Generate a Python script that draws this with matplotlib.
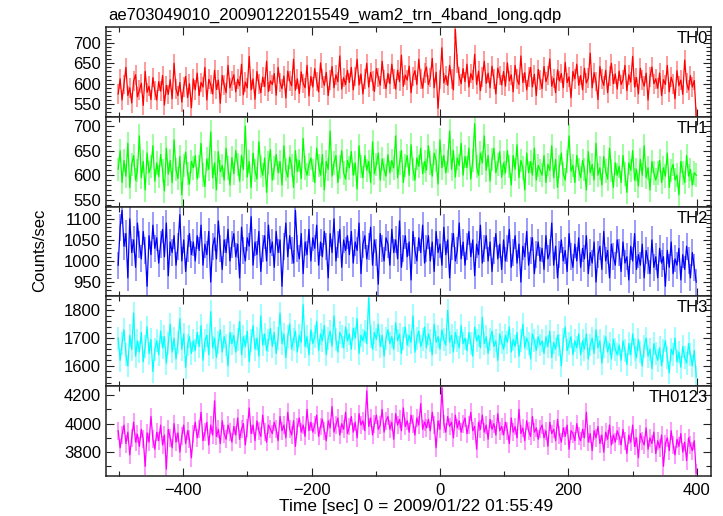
import numpy as np
import matplotlib
matplotlib.use("Agg")
import matplotlib.pyplot as plt
from matplotlib.ticker import MultipleLocator

plt.rcParams['font.family'] = ['Liberation Sans', 'DejaVu Sans']

# time bins (sec), 3 s spacing
t_start, t_step, n_bins = -501, 3, 301
time = t_start + t_step * np.arange(n_bins)

th0 = [
575, 612, 560, 598, 640, 571, 590, 553, 607, 622, 568, 585, 601, 547, 630, 579, 594, 561, 615, 583,
560, 605, 582, 620, 548, 596, 574, 610, 563, 650, 587, 571, 603, 555, 592, 618, 566, 600, 541, 612,
585, 626, 571, 603, 592, 640, 560, 611, 598, 575, 633, 586, 609, 552, 620, 597, 578, 645, 590, 606,
622, 580, 611, 595, 648, 573, 604, 590, 667, 585, 612, 562, 630, 599, 578, 616, 593, 655, 581, 607,
598, 625, 572, 640, 603, 588, 619, 565, 631, 607, 595, 660, 584, 612, 576, 629, 601, 590, 645, 570,
618, 592, 637, 605, 580, 651, 613, 596, 628, 571, 609, 642, 590, 622, 605, 668, 587, 615, 598, 633,
603, 640, 585, 618, 660, 597, 624, 575, 611, 650, 592, 628, 606, 581, 637, 615, 596, 655, 610, 588,
625, 600, 648, 612, 587, 633, 605, 670, 594, 621, 609, 643, 578, 618, 632, 598, 660, 611, 589, 627,
641, 598, 615, 662, 590, 628, 540, 610, 688, 602, 620, 596, 645, 612, 585, 733, 650, 618, 600, 637,
605, 648, 592, 625, 610, 672, 598, 631, 583, 617, 655, 601, 626, 590, 643, 612, 575, 638, 620, 597,
630, 594, 651, 607, 622, 580, 645, 611, 598, 668, 603, 627, 585, 616, 640, 592, 623, 571, 635, 609,
588, 642, 605, 620, 661, 594, 613, 578, 634, 607, 625, 590, 652, 603, 617, 566, 630, 612, 648, 596,
620, 585, 638, 602, 614, 675, 590, 627, 605, 561, 642, 611, 596, 633, 578, 619, 650, 600, 624, 587,
631, 598, 610, 645, 583, 622, 604, 667, 592, 615, 575, 638, 609, 594, 626, 560, 617, 641, 600, 612,
589, 626, 571, 610, 598, 645, 580, 616, 600, 563, 632, 595, 609, 574, 658, 602, 585, 620, 592, 608,
520]

th1 = [
612, 650, 585, 630, 598, 665, 575, 622, 640, 590, 610, 680, 595, 628, 570, 645, 605, 618, 660, 588,
625, 597, 642, 610, 568, 655, 602, 630, 585, 672, 612, 593, 638, 560, 620, 647, 603, 582, 628, 615,
640, 592, 618, 665, 600, 577, 633, 612, 688, 595, 625, 570, 648, 607, 620, 590, 655, 615, 580, 636,
603, 650, 622, 588, 640, 612, 700, 596, 628, 575, 645, 610, 592, 668, 618, 600, 635, 565, 625, 652,
590, 615, 642, 605, 628, 580, 660, 612, 596, 637, 620, 575, 650, 608, 630, 593, 675, 615, 600, 622,
635, 610, 585, 655, 620, 600, 642, 570, 628, 612, 690, 598, 625, 640, 585, 617, 650, 605, 592, 630,
615, 648, 600, 625, 572, 660, 618, 595, 640, 610, 628, 585, 668, 603, 622, 645, 590, 633, 612, 598,
642, 605, 630, 615, 680, 595, 625, 650, 585, 620, 640, 600, 662, 612, 590, 635, 618, 655, 603, 628,
610, 660, 625, 598, 645, 630, 582, 672, 615, 640, 605, 628, 690, 612, 650, 596, 635, 620, 665, 600,
638, 615, 655, 592, 630, 705, 618, 600, 645, 625, 680, 610, 640, 588, 632, 655, 605, 622, 648, 596,
625, 605, 650, 618, 580, 640, 612, 662, 595, 630, 615, 570, 645, 605, 628, 600, 655, 590, 620, 610,
600, 640, 585, 622, 610, 660, 595, 632, 575, 618, 645, 602, 590, 628, 680, 608, 620, 585, 640, 612,
595, 630, 612, 570, 648, 605, 622, 590, 665, 600, 615, 580, 638, 608, 592, 655, 610, 575, 625, 600,
618, 585, 640, 602, 565, 625, 610, 650, 590, 612, 578, 632, 600, 660, 595, 615, 570, 628, 605, 590,
605, 630, 585, 615, 598, 645, 575, 610, 622, 590, 600, 560, 628, 605, 585, 640, 598, 612, 580, 605,
600]

th2 = [
990, 1080, 1120, 1035, 1065, 960, 1100, 1020, 1050, 985, 1090, 1040, 1005, 1070, 1025, 940, 1060, 1015, 1085, 1030,
1055, 995, 1040, 1075, 1010, 1090, 965, 1045, 1020, 1060, 990, 1035, 1110, 1000, 1050, 975, 1030, 1065, 1015, 1045,
1000, 1060, 1025, 1085, 990, 1040, 1015, 1070, 950, 1035, 1055, 1005, 1095, 1030, 980, 1050, 1020, 1075, 1000, 1040,
1065, 1010, 1040, 960, 1080, 1025, 1000, 1055, 1035, 1105, 990, 1045, 1015, 1070, 975, 1030, 1060, 1000, 1085, 1020,
1045, 985, 1070, 1020, 1050, 940, 1035, 1090, 1010, 1060, 1025, 995, 1120, 1030, 1005, 1065, 970, 1045, 1015, 1075,
1000, 1055, 1030, 1085, 990, 1045, 1010, 1070, 1035, 960, 1065, 1020, 1100, 1000, 1040, 1075, 985, 1050, 1025, 1060,
1015, 1070, 995, 1045, 1025, 1090, 970, 1040, 1060, 1005, 1035, 1080, 990, 1050, 1020, 945, 1065, 1030, 1000, 1055,
1040, 990, 1075, 1020, 1050, 1005, 1095, 985, 1030, 1060, 1010, 1045, 955, 1070, 1025, 1000, 1055, 1020, 1085, 995,
1030, 1060, 1000, 1045, 975, 1070, 1020, 1040, 990, 1080, 1015, 1050, 960, 1035, 1065, 1000, 1025, 1090, 1005, 1045,
990, 1035, 1070, 1010, 1050, 965, 1040, 1015, 1085, 995, 1030, 1060, 1000, 1045, 975, 1025, 1065, 1005, 1040, 980,
1050, 1000, 1030, 1075, 985, 1020, 1060, 995, 1040, 950, 1035, 1010, 1070, 990, 1025, 1055, 970, 1015, 1045, 1000,
1030, 980, 1060, 1005, 1020, 1090, 990, 1035, 960, 1015, 1050, 1000, 1025, 975, 1065, 1010, 985, 1040, 1000, 1055,
985, 1030, 1005, 1060, 970, 1020, 995, 1045, 950, 1015, 1035, 980, 1070, 1000, 1025, 960, 1040, 1010, 990, 1050,
1020, 975, 1045, 995, 1010, 955, 1035, 1000, 1065, 980, 1015, 990, 1040, 960, 1025, 1000, 970, 1050, 985, 1010,
960, 1030, 995, 1010, 940, 1025, 985, 1045, 970, 1005, 990, 1030, 955, 1015, 980, 1035, 1000, 960, 1020, 985,
950]

th3 = [
1700, 1620, 1680, 1730, 1640, 1600, 1710, 1660, 1790, 1635, 1690, 1650, 1720, 1615, 1670, 1740, 1645, 1695, 1580, 1660,
1690, 1640, 1725, 1665, 1705, 1610, 1680, 1750, 1650, 1700, 1625, 1685, 1770, 1660, 1715, 1595, 1675, 1705, 1645, 1690,
1655, 1720, 1670, 1745, 1620, 1690, 1710, 1640, 1795, 1665, 1700, 1630, 1685, 1730, 1650, 1705, 1675, 1600, 1720, 1680,
1710, 1650, 1695, 1760, 1640, 1705, 1670, 1725, 1615, 1690, 1745, 1660, 1700, 1635, 1780, 1675, 1715, 1655, 1690, 1735,
1670, 1720, 1645, 1700, 1790, 1680, 1715, 1630, 1705, 1750, 1660, 1695, 1725, 1650, 1710, 1685, 1820, 1670, 1705, 1640,
1730, 1680, 1705, 1760, 1655, 1715, 1690, 1745, 1640, 1700, 1725, 1670, 1780, 1695, 1650, 1720, 1705, 1665, 1740, 1690,
1715, 1660, 1735, 1700, 1770, 1645, 1710, 1690, 1725, 1680, 1845, 1705, 1660, 1720, 1695, 1750, 1670, 1710, 1635, 1700,
1730, 1680, 1705, 1660, 1755, 1690, 1715, 1645, 1700, 1740, 1675, 1710, 1685, 1780, 1650, 1700, 1725, 1670, 1695, 1740,
1665, 1715, 1690, 1640, 1750, 1685, 1705, 1660, 1730, 1695, 1675, 1800, 1685, 1710, 1650, 1720, 1690, 1665, 1745, 1680,
1700, 1655, 1720, 1680, 1635, 1740, 1690, 1710, 1665, 1775, 1680, 1705, 1645, 1695, 1725, 1670, 1690, 1620, 1715, 1685,
1660, 1710, 1685, 1740, 1650, 1695, 1670, 1720, 1635, 1690, 1750, 1665, 1700, 1680, 1625, 1715, 1690, 1655, 1705, 1675,
1690, 1645, 1705, 1670, 1725, 1630, 1685, 1660, 1710, 1675, 1600, 1695, 1740, 1655, 1680, 1705, 1640, 1690, 1665, 1715,
1640, 1690, 1660, 1715, 1625, 1675, 1700, 1645, 1730, 1665, 1690, 1610, 1670, 1705, 1650, 1680, 1625, 1695, 1660, 1640,
1675, 1620, 1690, 1655, 1605, 1680, 1640, 1715, 1660, 1630, 1695, 1650, 1600, 1670, 1700, 1635, 1660, 1590, 1680, 1645,
1620, 1665, 1600, 1655, 1690, 1630, 1575, 1660, 1640, 1700, 1615, 1650, 1595, 1670, 1630, 1610, 1680, 1640, 1600, 1655,
1560]

th0123 = [
3950, 3830, 3920, 3990, 3860, 3940, 3780, 3900, 4010, 3870, 3925, 3840, 3960, 3890, 3700, 3935, 3870, 4050, 3890, 3820,
3940, 3880, 3990, 3850, 3920, 3680, 3960, 3900, 3830, 4000, 3870, 3935, 3800, 3910, 3990, 3860, 3950, 3890, 3760, 3925,
4010, 3900, 3960, 4080, 3880, 3940, 4010, 3850, 3990, 3920, 4160, 3910, 3960, 3860, 4020, 3930, 3890, 3990, 3940, 3870,
3980, 3920, 4040, 3890, 3960, 4000, 3850, 3970, 4110, 3930, 3990, 3880, 4020, 3950, 3910, 4060, 3940, 3870, 3990, 3960,
3930, 4010, 3960, 3880, 4050, 3950, 3990, 3900, 4080, 3960, 3920, 4020, 3840, 3980, 4040, 3940, 3990, 3910, 4100, 3950,
4010, 3940, 3990, 4060, 3910, 3980, 4030, 3950, 3880, 4020, 3970, 4120, 3940, 3990, 4040, 3920, 4000, 3960, 4080, 3930,
3980, 4050, 3940, 4010, 3900, 4070, 3990, 4020, 3950, 4230, 3980, 4040, 3920, 4000, 4060, 3960, 3990, 4100, 3940, 4020,
4050, 3960, 4010, 3890, 4070, 3990, 4030, 3950, 4110, 3980, 4020, 3940, 4060, 4000, 3920, 4040, 3990, 4140, 3960, 4010,
3970, 4030, 3950, 4080, 3990, 3830, 4020, 3960, 4250, 4000, 3940, 4050, 3980, 4010, 3900, 4060, 3970, 4020, 3940, 4000,
4040, 3930, 3990, 4080, 3950, 3980, 3820, 4010, 3960, 4060, 3940, 3990, 3890, 4030, 3960, 4000, 3920, 4070, 3950, 3980,
3920, 4010, 3950, 3860, 4040, 3940, 3980, 3900, 4100, 3930, 3970, 3880, 4020, 3950, 3910, 4050, 3940, 3970, 3890, 3960,
3990, 3900, 3950, 3840, 4010, 3930, 3960, 3880, 4030, 3920, 3870, 3970, 3910, 3990, 3820, 3950, 3930, 3880, 4000, 3910,
3880, 3960, 3900, 4080, 3870, 3930, 3810, 3950, 3900, 3980, 3860, 3920, 3800, 3940, 3890, 3990, 3850, 3920, 3870, 3950,
3910, 3850, 3960, 3880, 3790, 3920, 3870, 3990, 3840, 3900, 3760, 3930, 3880, 3850, 3970, 3820, 3900, 3860, 3940, 3790,
3880, 3830, 3920, 3700, 3860, 3900, 3810, 3950, 3850, 3780, 3890, 3840, 3930, 3800, 3870, 3740, 3900, 3850, 3810, 3880,
3650]

band_names = ["TH0", "TH1", "TH2", "TH3", "TH0123"]
band_errors = [24, 24, 32, 41, 63]
series = [th0, th1, th2, th3, th0123]
colors = ["#ff0000", "#00ff00", "#0000ff", "#00ffff", "#ff00ff"]
ylims = [(519, 739), (536, 719), (916, 1129), (1527, 1850), (3632, 4263)]
major_steps = [50, 50, 50, 100, 200]
minor_steps = [10, 10, 10, 20, 100]

title = "ae703049010_20090122015549_wam2_trn_4band_long.qdp"
xlabel = "Time [sec] 0 = 2009/01/22 01:55:49"
ylabel = "Counts/sec"

FS = 12

fig, axes = plt.subplots(5, 1, sharex=True, figsize=(7.23, 5.16), dpi=100)
fig.subplots_adjust(left=106/723, right=711/723, top=1-27/516, bottom=1-476/516, hspace=0)

for ax, y, err, name, c, yl, ms, mn in zip(axes, series, band_errors, band_names,
                                           colors, ylims, major_steps, minor_steps):
    y = np.asarray(y, dtype=float)
    ax.vlines(time, y - err, y + err, colors=c, alpha=0.5, linewidth=1.1)
    ax.plot(time, y, color=c, linewidth=0.9)
    ax.set_ylim(*yl)
    ax.set_xlim(-520, 422)
    ax.yaxis.set_major_locator(MultipleLocator(ms))
    ax.yaxis.set_minor_locator(MultipleLocator(mn))
    ax.xaxis.set_major_locator(MultipleLocator(200))
    ax.xaxis.set_minor_locator(MultipleLocator(100))
    ax.tick_params(which='both', direction='in', top=True, right=True,
                   labelsize=FS, width=0.8, color='#222222')
    ax.tick_params(which='major', length=6)
    ax.tick_params(which='minor', length=3.5)
    for s in ax.spines.values():
        s.set_linewidth(1.1)
        s.set_color('#222222')
    ax.text(0.995, 0.955, name, transform=ax.transAxes, ha='right', va='top',
            fontsize=FS)

axes[-1].tick_params(axis='x', pad=5)

fig.text(108/723, 1-20/516, title, ha='left', va='baseline', fontsize=FS)
fig.text(40/723, 1-250/516, ylabel, rotation=90, ha='center', va='center', fontsize=FS)
fig.text(416/723, 1-507/516, xlabel, ha='center', va='center', fontsize=12.5)

fig.savefig("out.png", dpi=100)
